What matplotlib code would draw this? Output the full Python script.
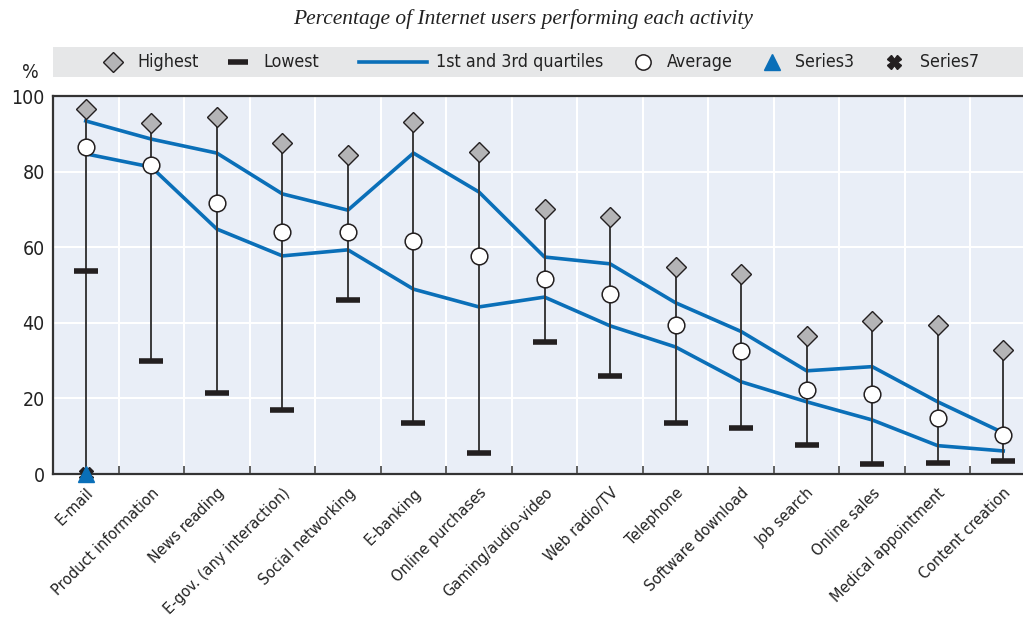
import numpy as np
import matplotlib
matplotlib.use("Agg")
import matplotlib.pyplot as plt
from matplotlib.lines import Line2D
from matplotlib.patches import Rectangle

plt.rcParams['font.family'] = ['DejaVu Sans']
plt.rcParams['font.stretch'] = 'condensed'

categories = ['E-mail', 'Product information', 'News reading', 'E-gov. (any interaction)',
              'Social networking', 'E-banking', 'Online purchases', 'Gaming/audio-video',
              'Web radio/TV', 'Telephone', 'Software download', 'Job search',
              'Online sales', 'Medical appointment', 'Content creation']
highest = [96.6, 92.9, 94.4, 87.6, 84.4, 93.1, 85.2, 70.1, 68.0, 54.7, 52.9, 36.5, 40.5, 39.5, 32.8]
lowest = [53.7, 29.9, 21.4, 16.9, 46.0, 13.5, 5.6, 34.9, 25.9, 13.6, 12.3, 7.8, 2.7, 3.0, 3.5]
q3 = [93.4, 88.6, 84.9, 74.1, 69.8, 84.9, 74.6, 57.4, 55.6, 45.3, 37.7, 27.3, 28.4, 19.1, 10.9]
q1 = [84.7, 81.2, 64.8, 57.7, 59.3, 48.9, 44.2, 46.8, 39.2, 33.6, 24.4, 19.1, 14.3, 7.5, 6.1]
average = [86.5, 81.7, 71.7, 64.0, 64.0, 61.6, 57.7, 51.6, 47.6, 39.3, 32.6, 22.2, 21.2, 14.9, 10.2]
series3 = [0.0] + [np.nan] * 14
series7 = [0.0] + [np.nan] * 14

blue = '#0a6fb8'
dark = '#231f20'
W, H = 1023, 621

fig = plt.figure(figsize=(10.23, 6.21), dpi=100)
ax = fig.add_axes([53 / W, 1 - 474 / H, 983 / W, 378 / H])
ax.set_facecolor('#e9eef7')

x = np.arange(len(categories))

# whiskers: span of all series for each category
for i in x:
    vals = [highest[i], lowest[i], series3[i], series7[i]]
    vals = [v for v in vals if not np.isnan(v)]
    ax.plot([i, i], [min(vals), max(vals)], color='#3a3a3a', lw=1.4, zorder=3)

ax.plot(x, q3, color=blue, lw=2.6, zorder=2)
ax.plot(x, q1, color=blue, lw=2.6, zorder=2)
ax.plot(x, lowest, ls='none', marker='_', ms=17, mew=4, color=dark, zorder=4)
ax.plot(x, highest, ls='none', marker='D', ms=10, mfc='#b4b4b6', mec=dark, mew=1, zorder=5)
ax.plot(x, average, ls='none', marker='o', ms=12, mfc='white', mec=dark, mew=1.1, zorder=5)
ax.plot(x, series7, ls='none', marker='X', ms=10, color=dark, zorder=6, clip_on=False)
ax.plot(x, series3, ls='none', marker='^', ms=11, color=blue, zorder=7, clip_on=False)

ax.set_xlim(-0.5, 14.5)
ax.set_ylim(0, 100)
ax.set_yticks([0, 20, 40, 60, 80, 100])
ax.tick_params(axis='y', length=0, labelsize=14, pad=6, colors='#222222')
ax.set_xticks(x)
ax.set_xticklabels(categories, rotation=45, ha='right', rotation_mode='anchor', fontsize=11.6)
ax.tick_params(axis='x', which='major', length=0, pad=8, colors='#222222')
ax.set_xticks(x[:-1] + 0.5, minor=True)
ax.tick_params(axis='x', which='minor', direction='in', length=6, width=1.2, color='#444444')
ax.grid(True, color='white', lw=1.5, zorder=0)
ax.grid(True, which='minor', axis='x', color='white', lw=1.5, zorder=0)
ax.grid(False, which='major', axis='x')
ax.set_axisbelow(True)
for s in ['left', 'bottom', 'top']:
    ax.spines[s].set_color('#333333')
    ax.spines[s].set_linewidth(1.6)
ax.spines['right'].set_visible(False)

fig.text(30 / W, 1 - 72 / H, '%', fontsize=14, ha='center', va='center', color='#222222')
fig.text(523 / W, 1 - 19 / H, 'Percentage of Internet users performing each activity',
         fontsize=15.5, ha='center', va='center', style='italic',
         family=['Liberation Serif', 'DejaVu Serif'], color='#222222')

# legend band, laid out by hand
fig.patches.append(Rectangle((53 / W, 1 - 77 / H), 970 / W, 30 / H,
                             transform=fig.transFigure, facecolor='#e6e7e8', edgecolor='none'))
ly = 1 - 62 / H
legend_items = [
    (113, 137, 'Highest', dict(marker='D', ms=10, mfc='#b4b4b6', mec=dark, mew=1)),
    (238, 263, 'Lowest', dict(marker='_', ms=14, mew=4, color=dark)),
    (None, 436, '1st and 3rd quartiles', None),
    (643, 667, 'Average', dict(marker='o', ms=11, mfc='white', mec=dark, mew=1.1)),
    (772, 795, 'Series3', dict(marker='^', ms=11, color=blue)),
    (894, 920, 'Series7', dict(marker='X', ms=10, color=dark)),
]
for mx, tx, label, style in legend_items:
    if style is None:
        fig.add_artist(Line2D([359 / W, 427 / W], [ly, ly], color=blue, lw=2.6,
                              transform=fig.transFigure))
    else:
        fig.add_artist(Line2D([mx / W], [ly], ls='none', transform=fig.transFigure, **style))
    fig.text(tx / W, ly, label, fontsize=12.8, ha='left', va='center', color='#222222')

fig.savefig('out.png', dpi=100)
